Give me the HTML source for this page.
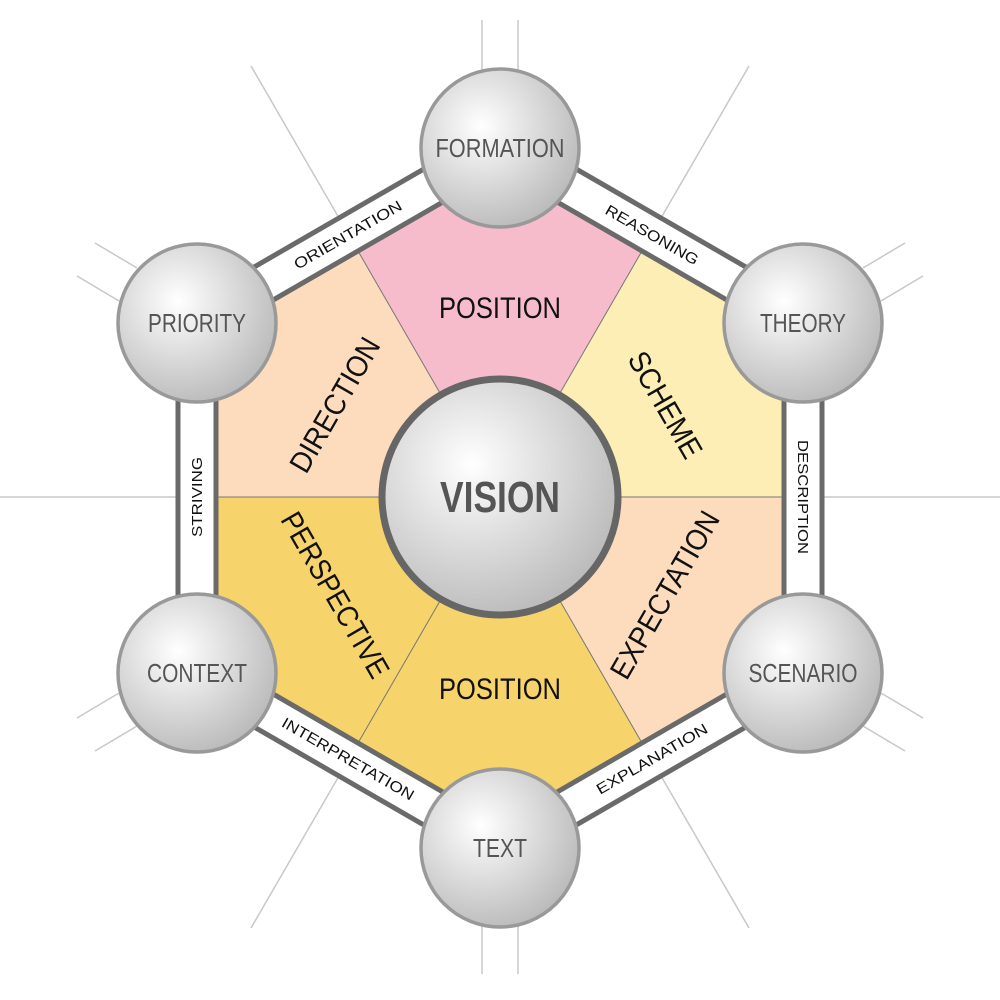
<!DOCTYPE html>
<html><head><meta charset="utf-8"><style>
html,body{margin:0;padding:0;background:#fff}
svg{display:block}
text{font-family:"Liberation Sans Narrow","Liberation Sans",sans-serif}
</style></head><body>
<svg width="1000" height="1000" viewBox="0 0 1000 1000" xmlns="http://www.w3.org/2000/svg">
<defs>
<radialGradient id="g" cx="0.38" cy="0.36" r="0.7">
<stop offset="0" stop-color="#ffffff"/>
<stop offset="1" stop-color="#b8b8b8"/>
</radialGradient>
</defs>
<g stroke="#c8c8c8" stroke-width="1.5">
<line x1="822" y1="497" x2="1000" y2="497"/>
<line x1="178" y1="497" x2="0" y2="497"/>
<line x1="661" y1="218" x2="749" y2="66"/>
<line x1="339" y1="218" x2="251" y2="66"/>
<line x1="661" y1="776" x2="749" y2="928"/>
<line x1="339" y1="776" x2="251" y2="928"/>
<line x1="482" y1="70" x2="482" y2="20"/><line x1="518" y1="70" x2="518" y2="20"/>
<line x1="482" y1="924" x2="482" y2="974"/><line x1="518" y1="924" x2="518" y2="974"/>
<line x1="137" y1="268" x2="95" y2="243"/><line x1="119" y1="301" x2="77" y2="276"/>
<line x1="863" y1="268" x2="905" y2="243"/><line x1="881" y1="301" x2="923" y2="276"/>
<line x1="137" y1="726" x2="95" y2="751"/><line x1="119" y1="693" x2="77" y2="718"/>
<line x1="863" y1="726" x2="905" y2="751"/><line x1="881" y1="693" x2="923" y2="718"/>
</g>
<polygon points="500,125 822,311 822,683 500,869 178,683 178,311" fill="#fff" stroke="#6a6a6a" stroke-width="5"/>
<polygon points="500,497 358,251 500,169 642,251" fill="#f6bccb"/>
<polygon points="500,497 642,251 784,333 784,497" fill="#fdeeb5"/>
<polygon points="500,497 784,497 784,661 642,743" fill="#fddcbd"/>
<polygon points="500,497 642,743 500,825 358,743" fill="#f6d36b"/>
<polygon points="500,497 358,743 216,661 216,497" fill="#f6d36b"/>
<polygon points="500,497 216,497 216,333 358,251" fill="#fddcbd"/>
<g stroke="#777" stroke-width="1">
<line x1="500" y1="497" x2="784" y2="497"/><line x1="500" y1="497" x2="216" y2="497"/>
<line x1="500" y1="497" x2="642" y2="251"/><line x1="500" y1="497" x2="358" y2="251"/>
<line x1="500" y1="497" x2="642" y2="743"/><line x1="500" y1="497" x2="358" y2="743"/>
</g>
<polygon points="500,169 784,333 784,661 500,825 216,661 216,333" fill="none" stroke="#6a6a6a" stroke-width="5"/>
<g font-size="15" fill="#111" text-anchor="middle" lengthAdjust="spacingAndGlyphs">
<text transform="translate(348,235) rotate(-30)" y="5" textLength="122" lengthAdjust="spacingAndGlyphs">ORIENTATION</text>
<text transform="translate(652,235) rotate(30)" y="5" textLength="105" lengthAdjust="spacingAndGlyphs">REASONING</text>
<text transform="translate(803,497) rotate(90)" y="5" textLength="114" lengthAdjust="spacingAndGlyphs">DESCRIPTION</text>
<text transform="translate(652,759) rotate(-30)" y="5" textLength="126" lengthAdjust="spacingAndGlyphs">EXPLANATION</text>
<text transform="translate(348,759) rotate(30)" y="5" textLength="150" lengthAdjust="spacingAndGlyphs">INTERPRETATION</text>
<text transform="translate(197,497) rotate(-90)" y="5" textLength="80" lengthAdjust="spacingAndGlyphs">STRIVING</text>
</g>
<g font-size="30" fill="#111" text-anchor="middle">
<text x="500" y="318" textLength="122" lengthAdjust="spacingAndGlyphs">POSITION</text>
<text x="500" y="699" textLength="122" lengthAdjust="spacingAndGlyphs">POSITION</text>
<text transform="translate(665,405) rotate(60)" y="10" textLength="118" lengthAdjust="spacingAndGlyphs">SCHEME</text>
<text transform="translate(335,405) rotate(-60)" y="10" textLength="150" lengthAdjust="spacingAndGlyphs">DIRECTION</text>
<text transform="translate(665,595) rotate(-60)" y="10" textLength="188" lengthAdjust="spacingAndGlyphs">EXPECTATION</text>
<text transform="translate(335,595) rotate(60)" y="10" textLength="186" lengthAdjust="spacingAndGlyphs">PERSPECTIVE</text>
</g>
<g fill="url(#g)" stroke="#999" stroke-width="3.5">
<circle cx="500" cy="148" r="79"/>
<circle cx="803" cy="323" r="79"/>
<circle cx="803" cy="673" r="79"/>
<circle cx="500" cy="848" r="79"/>
<circle cx="197" cy="673" r="79"/>
<circle cx="197" cy="323" r="79"/>
</g>
<circle cx="500" cy="497" r="118" fill="url(#g)" stroke="#666" stroke-width="7"/>
<g font-size="26" fill="#555" text-anchor="middle">
<text x="500" y="157" textLength="129" lengthAdjust="spacingAndGlyphs">FORMATION</text>
<text x="803" y="332" textLength="86" lengthAdjust="spacingAndGlyphs">THEORY</text>
<text x="803" y="682" textLength="109" lengthAdjust="spacingAndGlyphs">SCENARIO</text>
<text x="500" y="857" textLength="54" lengthAdjust="spacingAndGlyphs">TEXT</text>
<text x="197" y="682" textLength="100" lengthAdjust="spacingAndGlyphs">CONTEXT</text>
<text x="197" y="332" textLength="98" lengthAdjust="spacingAndGlyphs">PRIORITY</text>
</g>
<text x="500" y="512" font-size="44" font-weight="bold" fill="#555" text-anchor="middle" textLength="120" lengthAdjust="spacingAndGlyphs">VISION</text>
</svg>
</body></html>
